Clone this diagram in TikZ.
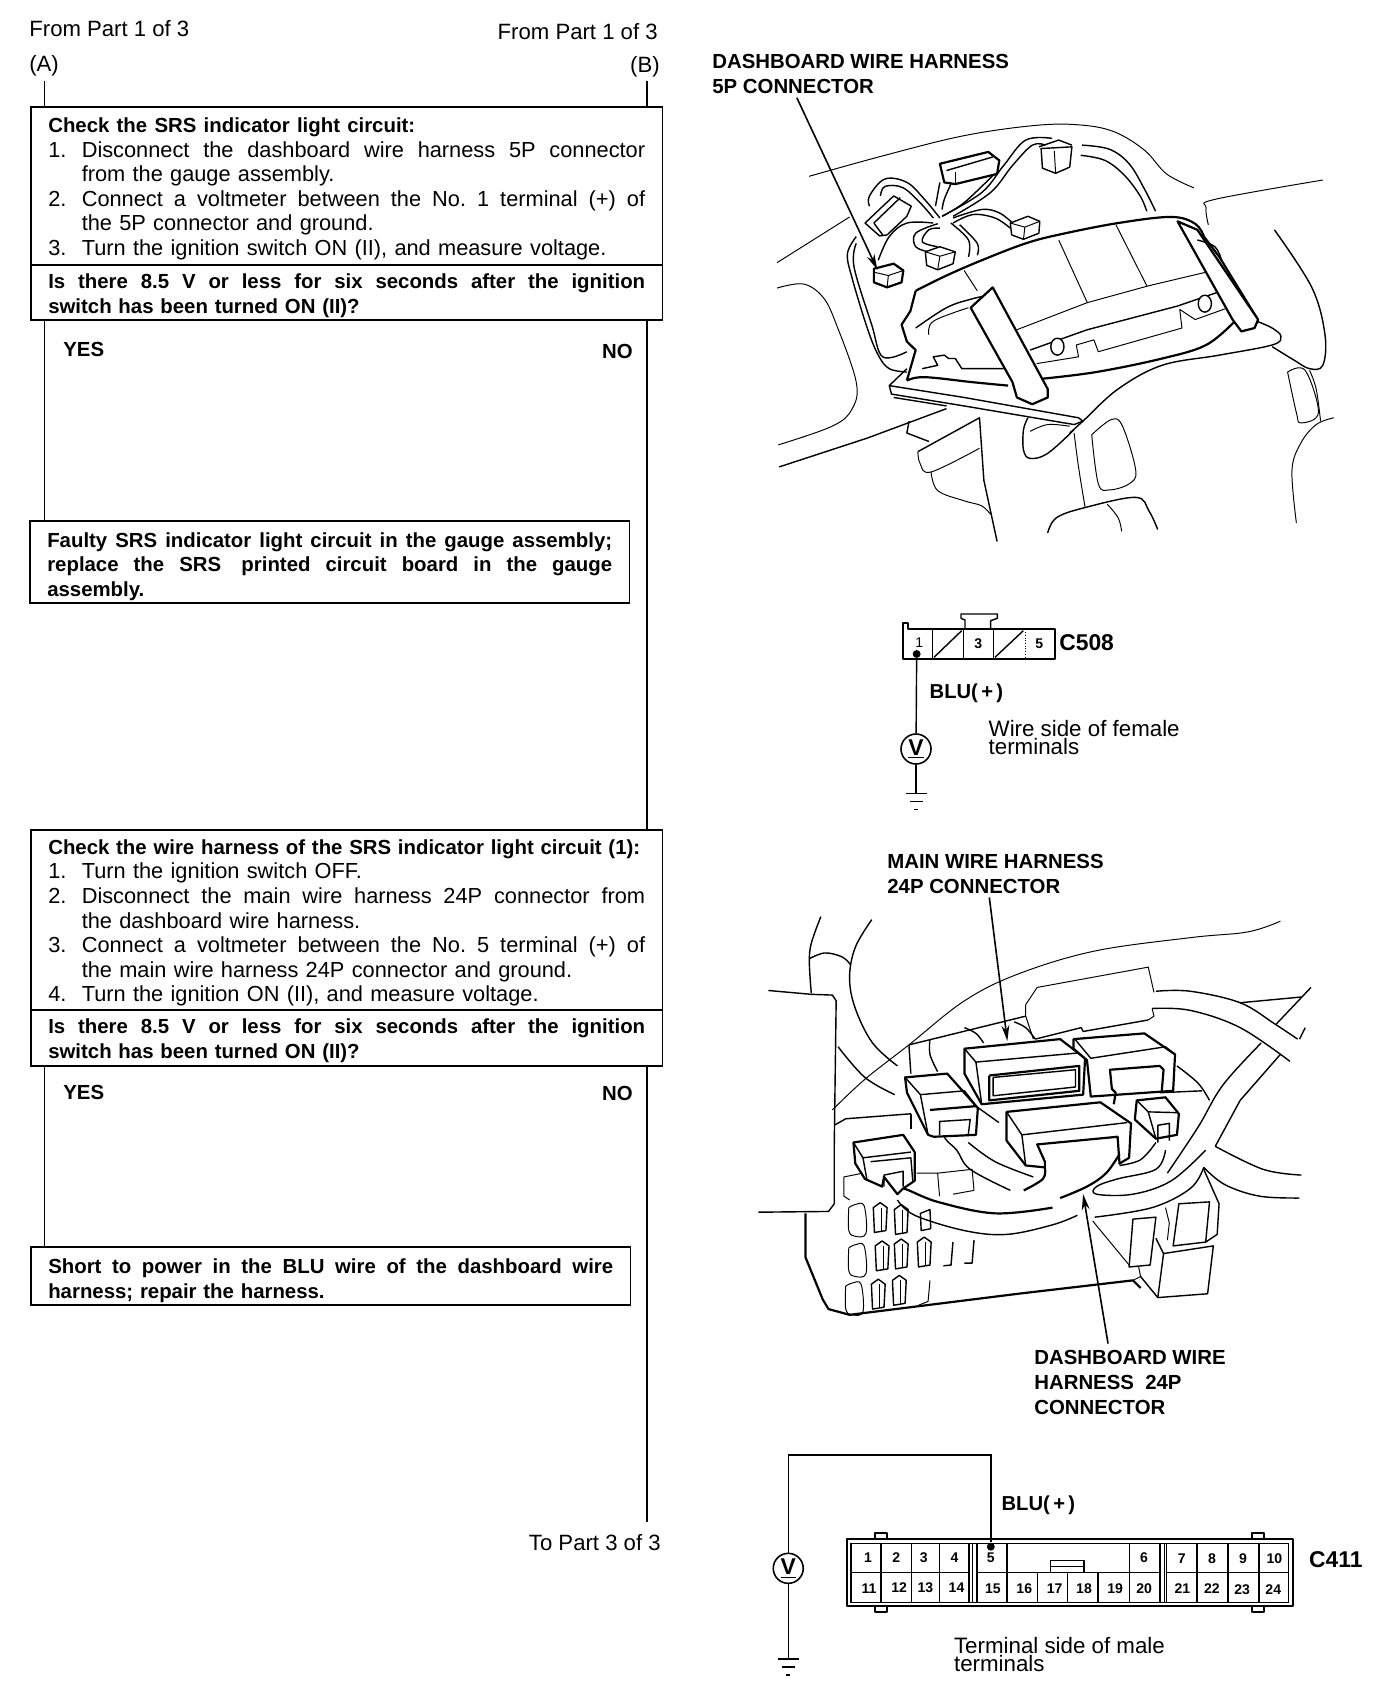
\documentclass[tikz,border=0pt]{standalone}
\usepackage{fontspec}
\setmainfont{Liberation Sans}
\usepackage{xcolor}
\usepackage{tikz}
\usetikzlibrary{arrows.meta}
\newcommand{\spreadline}[2]{\makebox[#1][s]{\spaceskip=0.278em plus 1em minus 0.08em\xspaceskip=\spaceskip #2}}
\newcommand{\itemline}[3]{\makebox[0.67cm][l]{#1}\spreadline{#2}{#3}}
\newcommand{\itemplain}[2]{\makebox[0.67cm][l]{#1}#2}
\newcommand{\itemrest}[1]{\hspace*{0.67cm}#1}
\newcommand{\topgap}[1]{\rule{0pt}{#1}}
\newcommand{\checktitle}[1]{{\fontsize{11.6}{14}\selectfont\bfseries #1}}
\newcommand{\sketchbend}[2]{\draw[#1] plot[smooth,tension=0.6] coordinates {#2};}
\newcommand{\sketchkink}[2]{\draw[#1] plot[sharp plot] coordinates {#2};}
\newcommand{\sketchblock}[2]{\draw[#1,fill=white] plot[sharp cycle] coordinates {#2};}
\newcommand{\groundmark}[1]{\draw[flowline] (#1) ++(-10.5,0) -- ++(21,0) (#1) ++(-6.5,8) -- ++(13,0) (#1) ++(-2,16) -- ++(4,0);}
\tikzset{
  flowline/.style={line width=0.8pt},
  stepbox/.style={draw,line width=0.9pt,anchor=north west,inner xsep=0.35cm,inner ysep=0pt,
    text width=11.94cm,minimum width=12.64cm,align=left,font=\fontsize{12.4}{14}\selectfont},
  askbox/.style={stepbox,font=\fontsize{11.6}{14}\selectfont\bfseries},
  endbox/.style={askbox,text width=11.3cm,minimum width=12cm},
  flowtext/.style={inner sep=0pt,font=\fontsize{12.6}{14}\selectfont},
  branchtext/.style={inner sep=0pt,font=\fontsize{11.6}{14}\selectfont\bfseries},
  partlabel/.style={inner sep=0pt,anchor=north west,align=left,font=\fontsize{11.6}{14}\selectfont\bfseries},
  noteline/.style={inner sep=0pt,anchor=north west,align=left,font=\fontsize{12.7}{10.5}\selectfont},
  codelabel/.style={inner sep=0pt,anchor=west,font=\fontsize{13}{14}\selectfont\bfseries},
  wirelabel/.style={inner sep=0pt,anchor=west,font=\fontsize{11.5}{12}\selectfont\bfseries},
  termnum/.style={inner sep=0pt,font=\fontsize{8}{9}\selectfont\bfseries},
  termdot/.style={circle,fill,inner sep=0pt,minimum size=4.5pt},
  voltmeter/.style={circle,draw,line width=0.9pt,fill=white,inner sep=0pt,minimum size=0.6cm,font=\fontsize{13}{13}\selectfont\bfseries},
  sketchthin/.style={line width=0.55pt,line join=round},
  sketchmid/.style={line width=0.8pt,line join=round},
  sketchthick/.style={line width=1.25pt,line join=round},
  leadarrow/.style={line width=0.9pt,-{Stealth[length=9pt,width=4.5pt]}}
}
\begin{document}
\begin{tikzpicture}[x=0.02cm,y=-0.02cm]
  \useasboundingbox (0,0) rectangle (1392,1696);
  \fill[white] (0,0) rectangle (1392,1696);

  \node[flowtext,anchor=west] (froma) at (29,29) {From Part 1 of 3};
  \node[flowtext,anchor=east] (fromb) at (658,32) {From Part 1 of 3};
  \node[flowtext,anchor=west] (taga) at (29,66) {(A)};
  \node[flowtext,anchor=east] (tagb) at (660,67) {(B)};
  \node[flowtext,anchor=east] (topart) at (661,1543) {To Part 3 of 3};

  \node[stepbox,minimum height=3.16cm] (srscheck) at (30,106) {
    \topgap{12pt}\checktitle{Check the SRS indicator light circuit:} \\
    \itemline{1.}{11.27cm}{Disconnect the dashboard wire harness 5P connector} \\
    \itemrest{from the gauge assembly.} \\
    \itemline{2.}{11.27cm}{Connect a voltmeter between the No. 1 terminal (+) of} \\
    \itemrest{the 5P connector and ground.} \\
    \itemplain{3.}{Turn the ignition switch ON (II), and measure voltage.}
  };
  \node[askbox,minimum height=1.1cm] (srsask) at (30,264) {
    \topgap{12pt}\spreadline{11.94cm}{Is there 8.5 V or less for six seconds after the ignition} \\
    switch has been turned ON (II)?
  };
  \node[endbox,minimum height=1.64cm] (gaugeend) at (29,520) {
    \topgap{14pt}\spreadline{11.3cm}{Faulty SRS indicator light circuit in the gauge assembly;} \\
    \spreadline{11.3cm}{replace the SRS\kern3pt\ printed circuit board in the gauge} \\
    assembly.
  };
  \node[stepbox,minimum height=3.6cm] (wirecheck) at (30,829) {
    \topgap{12pt}\checktitle{\spreadline{11.84cm}{Check the wire harness of the SRS indicator light circuit (1):}} \\
    \itemplain{1.}{Turn the ignition switch OFF.} \\
    \itemline{2.}{11.27cm}{Disconnect the main wire harness 24P connector from} \\
    \itemrest{the dashboard wire harness.} \\
    \itemline{3.}{11.27cm}{Connect a voltmeter between the No. 5 terminal (+) of} \\
    \itemrest{the main wire harness 24P connector and ground.} \\
    \itemplain{4.}{Turn the ignition ON (II), and measure voltage.}
  };
  \node[askbox,minimum height=1.12cm] (wireask) at (30,1009) {
    \topgap{12pt}\spreadline{11.94cm}{Is there 8.5 V or less for six seconds after the ignition} \\
    switch has been turned ON (II)?
  };
  \node[endbox,minimum height=1.16cm] (shortend) at (30,1246) {
    \topgap{13.8pt}\spreadline{11.3cm}{Short to power in the BLU wire of the dashboard wire} \\
    harness; repair the harness.
  };

  \node[branchtext,anchor=west] (yesa) at (63,349) {YES};
  \node[branchtext,anchor=east] (noa) at (633,351) {NO};
  \node[branchtext,anchor=west] (yesb) at (63,1092) {YES};
  \node[branchtext,anchor=east] (nob) at (633,1093) {NO};

  \coordinate (linea) at (44.5,81);
  \coordinate (lineb) at (647,81);
  \coordinate (linec) at (647,1522);
  \draw[flowline] (linea) -- (linea |- srscheck.north);
  \draw[flowline] (lineb) -- (lineb |- srscheck.north);
  \draw[flowline] (linea |- srsask.south) -- (linea |- gaugeend.north);
  \draw[flowline] (lineb |- srsask.south) -- (lineb |- wirecheck.north);
  \draw[flowline] (linea |- wireask.south) -- (linea |- shortend.north);
  \draw[flowline] (lineb |- wireask.south) -- (linec);

  \node[partlabel] (dashlabel) at (712,54.3) {DASHBOARD WIRE HARNESS \\ 5P CONNECTOR};
  \node[partlabel] (mainlabel) at (887,854.4) {MAIN WIRE HARNESS \\ 24P CONNECTOR};
  \node[partlabel] (harnesslabel) at (1034,1350.4) {DASHBOARD WIRE \\ HARNESS \ 24P \\ CONNECTOR};

  \begin{scope}[shift={(700,30)},x=0.00881cm,y=-0.00678cm]
    \sketchbend{sketchthin}{(248,432) (420,370) (600,312) (760,282) (860,280) (940,300) (1010,355) (1060,425) (1122,466)}
    \sketchbend{sketchmid}{(868,340) (930,352) (975,395) (1010,470) (1035,535)}
    \sketchbend{sketchmid}{(865,370) (920,385) (965,430) (1000,490) (1015,535)}
    \sketchbend{sketchthin}{(1415,443) (1170,500) (1150,525) (1155,575)}
    \sketchkink{sketchthin}{(175,687) (340,552)}
    \sketchbend{sketchthin}{(175,762) (235,750) (280,790) (310,870) (355,1040) (345,1120) (300,1170) (178,1225)}
    \sketchkink{sketchmid}{(180,1290) (380,1205) (560,1118)}
    \sketchbend{sketchmid}{(355,610) (335,660) (345,730) (380,880) (405,960) (430,1000) (470,1010)}
    \sketchbend{sketchmid}{(355,630) (350,700) (390,870) (415,965) (470,950)}
    \sketchbend{sketchmid}{(1305,590) (1390,760) (1420,900) (1415,990) (1385,1000) (1350,975) (1300,935)}
    \sketchbend{sketchthin}{(1385,1005) (1400,1060) (1410,1155)}
    \sketchbend{sketchthin}{(1440,1145) (1400,1165) (1365,1220) (1345,1300) (1355,1455)}
    \sketchbend{sketchthin}{(1335,1010) (1375,1005) (1405,1130) (1365,1160) (1355,1130) (1335,1010)}
    \sketchkink{sketchmid}{(475,1155) (470,1190) (520,1215)}
    \sketchkink{sketchmid}{(495,1245) (635,1145) (645,1330) (675,1510)}
    \sketchbend{sketchthin}{(495,1245) (500,1280) (525,1305) (635,1235)}
    \sketchbend{sketchthin}{(525,1305) (540,1360) (600,1390) (640,1405) (660,1430)}
    \sketchbend{sketchmid}{(745,1145) (735,1180) (735,1240) (750,1265) (790,1250) (850,1180)}
    \sketchbend{sketchthin}{(750,1185) (790,1165) (840,1170)}
    \sketchbend{sketchthin}{(850,1190) (860,1290) (875,1410)}
    \sketchbend{sketchthin}{(890,1195) (935,1150) (960,1170) (990,1300) (975,1340) (930,1358) (905,1340) (890,1195)}
    \sketchbend{sketchmid}{(790,1485) (810,1440) (875,1410) (990,1380) (1020,1420) (1040,1475)}
    \sketchbend{sketchthin}{(925,1400) (950,1440) (958,1480)}

    \sketchbend{sketchmid}{(550,550) (640,480) (690,400) (740,325) (800,320)}
    \sketchbend{sketchmid}{(575,550) (660,480) (710,400) (755,340) (785,340)}
    \sketchkink{sketchmid}{(545,450) (535,520)}
    \sketchbend{sketchmid}{(570,455) (555,500) (550,530)}
    \sketchbend{sketchmid}{(665,430) (600,510) (550,550)}
    \sketchbend{sketchmid}{(385,520) (385,490) (420,440) (470,450) (510,500) (545,555)}
    \sketchbend{sketchmid}{(410,490) (420,462) (460,465) (500,510) (530,555)}
    \sketchbend{sketchmid}{(530,570) (470,570) (430,610) (405,680)}
    \sketchbend{sketchmid}{(575,555) (640,530) (680,540) (710,570)}
    \sketchbend{sketchmid}{(575,570) (620,545) (670,555) (705,585)}
    \sketchbend{sketchmid}{(540,640) (505,625) (520,590) (545,585)}
    \sketchbend{sketchmid}{(520,655) (490,640) (490,600) (540,572)}
    \sketchbend{sketchmid}{(570,570) (610,620) (610,670)}
    \sketchbend{sketchmid}{(590,575) (630,630) (630,665)}

    \sketchblock{sketchmid}{(775,350) (845,345) (840,405) (808,423) (778,408)}
    \sketchkink{sketchmid}{(770,345) (815,325) (845,340)}
    \sketchkink{sketchthin}{(805,358) (808,423)}
    \sketchblock{sketchthick}{(545,395) (655,360) (680,385) (675,425) (580,455) (555,450)}
    \sketchkink{sketchmid}{(560,415) (665,375)}
    \sketchkink{sketchmid}{(580,420) (580,455)}
    \sketchblock{sketchmid}{(375,570) (440,490) (480,520) (470,550) (425,605) (408,608)}
    \sketchkink{sketchmid}{(395,570) (455,495)}
    \sketchkink{sketchmid}{(395,570) (415,605)}
    \sketchblock{sketchmid}{(705,570) (745,550) (772,565) (770,600) (735,618) (708,605)}
    \sketchkink{sketchthin}{(705,570) (738,582) (772,565)}
    \sketchkink{sketchthin}{(738,582) (735,618)}
    \sketchblock{sketchmid}{(512,655) (545,640) (580,655) (575,690) (540,708) (515,695)}
    \sketchkink{sketchthin}{(512,655) (545,668) (580,655)}
    \sketchkink{sketchthin}{(545,668) (540,708)}
    \sketchblock{sketchthick}{(395,705) (440,690) (462,710) (458,745) (425,760) (395,745)}
    \sketchkink{sketchthin}{(395,715) (428,725) (462,710)}
    \sketchkink{sketchthin}{(428,725) (425,760)}

    \sketchbend{sketchthick}{(490,770) (560,725) (640,680) (740,630) (820,603) (950,570) (1070,552) (1125,572) (1145,610)}
    \sketchkink{sketchthick}{(1145,610) (1180,670) (1220,755) (1265,850)}
    \sketchkink{sketchthick}{(490,770) (478,830) (458,870) (470,920) (490,945) (470,1035)}
    \sketchbend{sketchthick}{(470,1035) (510,1025) (620,1040) (700,1050)}
    \sketchbend{sketchthick}{(775,1030) (900,1010) (1050,970) (1150,930) (1215,860)}
    \sketchkink{sketchthin}{(815,620) (880,805)}
    \sketchkink{sketchthin}{(945,575) (1015,755)}
    \sketchkink{sketchthin}{(600,710) (630,770)}
    \sketchkink{sketchthin}{(720,885) (880,805) (1020,755) (1150,715) (1180,770)}
    \sketchbend{sketchmid}{(490,880) (560,820) (615,795) (665,780)}
    \sketchbend{sketchthin}{(520,900) (530,860) (610,820)}
    \sketchkink{sketchmid}{(750,945) (880,885) (1085,815) (1175,775)}
    \sketchkink{sketchthin}{(765,985) (860,965) (855,930) (895,915) (905,950) (1095,880) (1090,825) (1125,855) (1200,820)}
    \draw[sketchmid,fill=white] (812,935) ellipse (15 and 25);
    \draw[sketchmid,fill=white] (1147,808) ellipse (15 and 25);
    \sketchkink{sketchmid}{(505,1000) (540,990) (530,965) (555,960) (565,970) (580,970) (595,1000) (690,1000)}

    \sketchblock{sketchthick}{(615,820) (665,760) (790,1060) (790,1085) (755,1105) (720,1085) (710,1040)}
    \sketchblock{sketchthick}{(1085,565) (1130,590) (1268,855) (1260,880) (1230,890) (1210,855)}
    \sketchbend{sketchmid}{(1130,620) (1170,640) (1185,680)}

    \sketchkink{sketchmid}{(470,1000) (430,1050) (600,1085) (860,1145) (870,1155) (850,1165) (600,1110) (435,1075) (430,1050)}
    \sketchkink{sketchmid}{(440,1085) (560,1110)}
    \sketchbend{sketchmid}{(1265,860) (1300,880) (1320,905) (1300,930) (1180,960) (1050,990) (950,1060) (870,1155) (840,1190)}

    \coordinate (dashtail) at (220,200);
    \coordinate (dashtip) at (403,708);
    \draw[leadarrow] (dashtail) -- (dashtip);
  \end{scope}

  \begin{scope}[shift={(860,600)},x=0.006667cm,y=-0.006667cm]
    \draw[sketchthick] (128,178) -- (128,70) -- (143,70) -- (143,88) -- (585,88) -- (585,178) -- cycle;
    \draw[sketchmid] (315,88) -- (315,60) -- (303,55) -- (303,42) -- (412,42) -- (412,55) -- (392,62) -- (392,88);
    \foreach \cola in {218,310,400} \draw[sketchmid] (\cola,88) -- (\cola,178);
    \draw[sketchthin,densely dotted] (495,88) -- (495,178);
    \draw[sketchmid] (222,172) -- (305,92);
    \draw[sketchmid] (405,172) -- (490,92);
    \node[termnum,font=\fontsize{8}{9}\selectfont] (pinone) at (178,128) {1};
    \node[termnum] (pinthree) at (355,132) {3};
    \node[termnum] (pinfive) at (538,130) {5};
    \node[termdot] (dotone) at (170,162) {};
    \node[codelabel] (cfive) at (597,128) {C508};
    \node[voltmeter] (volta) at (168,447) {\underline{V}};
    \coordinate (gnda) at (168,580);
    \draw[flowline] (dotone) -- (volta);
    \draw[flowline] (volta) -- (gnda);
    \node[wirelabel] (blua) at (208,280) {BLU(\,+\,)};
    \node[noteline] (notea) at (385,360) {Wire side of female \\ terminals};
  \end{scope}
  \groundmark{gnda}

  \begin{scope}[shift={(750,840)},x=0.00766cm,y=-0.00766cm]
    \sketchbend{sketchmid}{(185,200) (160,270) (155,320) (160,400)}
    \sketchbend{sketchmid}{(155,310) (195,295) (240,305) (262,325)}
    \sketchbend{sketchmid}{(318,208) (275,280) (260,360) (275,440) (320,530) (385,590)}
    \sketchbend{sketchmid}{(230,540) (300,620) (378,665)}
    \sketchkink{sketchmid}{(48,393) (160,403) (215,405) (225,420) (220,800) (220,950) (205,970) (22,972)}
    \sketchbend{sketchthin}{(215,705) (300,625) (415,535) (560,420) (700,350) (900,290) (1150,255) (1300,240) (1385,212)}
    \sketchkink{sketchthick}{(145,975) (145,1090) (190,1200) (205,1225) (260,1240) (700,1185) (1000,1150) (1020,1170)}
    \sketchkink{sketchmid}{(420,715) (250,728) (220,745)}
    \sketchkink{sketchmid}{(420,755) (420,715)}
    \sketchkink{sketchthin}{(435,870) (490,870) (580,860) (585,915) (530,925)}
    \sketchkink{sketchthin}{(490,870) (495,930)}
    \sketchkink{sketchthin}{(245,880) (245,930) (260,940)}
    \sketchkink{sketchthin}{(245,880) (295,870)}

    \sketchbend{sketchmid}{(1060,395) (1150,395) (1280,425) (1370,480) (1430,520)}
    \sketchbend{sketchmid}{(1050,440) (1150,445) (1280,490) (1410,578)}
    \sketchkink{sketchmid}{(1280,425) (1440,410)}
    \sketchkink{sketchmid}{(1465,385) (1375,480)}
    \sketchkink{sketchmid}{(1450,490) (1435,520)}
    \sketchbend{sketchmid}{(1335,530) (1235,640) (1170,750) (1090,870)}
    \sketchkink{sketchmid}{(1385,560) (1280,680) (1215,800)}
    \sketchbend{sketchmid}{(1215,800) (1340,860) (1440,875)}
    \sketchbend{sketchmid}{(1185,855) (1240,900) (1330,930) (1435,935)}
    \sketchbend{sketchmid}{(1185,855) (1150,910) (1050,960) (900,985)}
    \sketchkink{sketchthin}{(720,430) (750,385) (1040,332) (1055,398)}
    \sketchkink{sketchthin}{(720,430) (720,460) (740,520)}
    \sketchkink{sketchthin}{(1050,440) (1055,460) (1040,470)}
    \sketchkink{sketchmid}{(415,535) (720,460)}
    \sketchkink{sketchmid}{(415,535) (420,610)}
    \sketchbend{sketchmid}{(470,520) (470,560) (490,605)}
    \sketchbend{sketchmid}{(560,490) (590,505) (610,530)}
    \sketchbend{sketchmid}{(690,475) (720,490) (745,520)}
    \sketchkink{sketchmid}{(745,520) (865,490) (870,500) (1040,470)}
    \sketchbend{sketchmid}{(1115,590) (1170,635) (1200,680)}
    \sketchkink{sketchmid}{(1070,660) (1180,655)}
    \sketchkink{sketchmid}{(590,695) (650,738)}

    \foreach \fx/\fy in {340/985,395/990,345/1085,395/1080,455/1075,335/1185,390/1175} {
      \sketchblock{sketchmid}{(\fx-18,\fy-25) (\fx,\fy-38) (\fx+18,\fy-25) (\fx+15,\fy+35) (\fx-15,\fy+40)}
      \sketchkink{sketchthin}{(\fx+3,\fy-25) (\fx+3,\fy+37)}
    }
    \sketchblock{sketchmid}{(445,975) (470,965) (472,1015) (447,1020)}
    \foreach \fx/\fy in {280/995,280/1100,272/1200} {
      \sketchbend{sketchthin}{(\fx-22,\fy-35) (\fx-5,\fy-43) (\fx+18,\fy-40) (\fx+23,\fy+32) (\fx-5,\fy+40) (\fx-22,\fy+25) (\fx-22,\fy-35)}
    }
    \sketchkink{sketchmid}{(530,1050) (525,1110) (505,1112)}
    \sketchkink{sketchmid}{(585,1045) (580,1105) (560,1105)}
    \sketchkink{sketchthin}{(470,1150) (465,1205) (440,1215)}
    \sketchblock{sketchmid}{(1000,990) (1060,985) (1045,1110) (990,1115)}
    \sketchblock{sketchmid}{(1120,950) (1200,945) (1190,1050) (1105,1060)}
    \sketchblock{sketchmid}{(1080,1080) (1210,1060) (1195,1185) (1065,1195)}
    \sketchkink{sketchmid}{(1020,1140) (1065,1195)}
    \sketchkink{sketchmid}{(1060,1040) (1080,1080)}
    \sketchkink{sketchmid}{(1185,860) (1225,950) (1220,1030) (1190,1050)}
    \sketchkink{sketchthin}{(1085,960) (1095,1000) (1090,1045)}
    \sketchkink{sketchthin}{(1015,1115) (1020,1140) (1000,1150)}
    \sketchkink{sketchthin}{(895,995) (990,1110)}

    \sketchbend{sketchthick}{(385,925) (400,910) (490,945) (640,975) (790,960)}
    \sketchbend{sketchmid}{(385,940) (430,980) (560,1020) (670,1030) (790,1005) (855,980)}
    \sketchblock{sketchthick}{(560,545) (810,520) (875,570) (870,665) (605,690) (560,610)}
    \sketchkink{sketchmid}{(560,545) (590,580) (870,555)}
    \sketchkink{sketchmid}{(590,580) (605,690)}
    \sketchkink{sketchthick}{(625,615) (860,590) (860,655) (625,680) (625,615)}
    \sketchkink{sketchmid}{(635,620) (850,600) (850,645) (635,668) (635,620)}
    \sketchblock{sketchthick}{(845,520) (1030,505) (1110,560) (1105,655) (890,670) (880,575) (845,545)}
    \sketchkink{sketchmid}{(850,522) (890,570) (1085,540) (1110,560)}
    \sketchkink{sketchthick}{(950,690) (955,660) (945,650) (940,600) (1070,590) (1080,600) (1075,660)}
    \sketchblock{sketchthick}{(670,710) (915,685) (995,740) (990,830) (965,845) (960,775) (750,795) (770,840) (770,855) (720,850) (670,785)}
    \sketchkink{sketchmid}{(670,710) (710,770) (985,738)}
    \sketchkink{sketchmid}{(710,770) (720,850)}
    \sketchbend{sketchthick}{(770,855) (765,885) (715,915)}
    \sketchbend{sketchthick}{(810,935) (880,905) (930,870) (965,820)}
    \sketchbend{sketchmid}{(495,740) (510,780) (540,810) (575,860) (680,915)}
    \sketchbend{sketchmid}{(570,790) (640,840) (740,880)}
    \sketchblock{sketchthick}{(405,620) (515,610) (595,700) (590,770) (480,775) (465,770) (410,660)}
    \sketchkink{sketchmid}{(405,620) (445,665) (560,655) (595,700)}
    \sketchkink{sketchmid}{(445,665) (465,770)}
    \sketchkink{sketchthick}{(470,705) (590,695)}
    \sketchkink{sketchmid}{(495,770) (495,735) (575,730) (570,770)}
    \sketchblock{sketchthick}{(1010,680) (1085,672) (1120,715) (1115,770) (1060,780) (1005,730)}
    \sketchkink{sketchmid}{(1010,680) (1040,710) (1115,712)}
    \sketchkink{sketchmid}{(1040,710) (1060,780)}
    \sketchkink{sketchmid}{(1095,785) (1095,740) (1065,745) (1065,790)}
    \sketchbend{sketchmid}{(965,850) (1020,835) (1060,790)}
    \sketchbend{sketchmid}{(1085,810) (1060,860) (960,885) (905,905) (905,925) (1000,925) (1100,890) (1190,810)}
    \sketchblock{sketchthick}{(270,790) (400,770) (430,815) (430,890) (400,910) (385,925) (350,880) (345,905) (300,885) (275,845)}
    \sketchkink{sketchmid}{(270,790) (295,830) (420,815)}
    \sketchkink{sketchmid}{(295,830) (305,885)}
    \sketchkink{sketchmid}{(315,840) (420,830) (425,890)}
    \sketchkink{sketchmid}{(350,905) (350,875) (400,865) (400,905)}

    \coordinate (maintail) at (625,150);
    \coordinate (maintip) at (672,525);
    \coordinate (harnesstail) at (935,1315);
    \coordinate (harnesstip) at (870,925);
    \draw[leadarrow] (maintail) -- (maintip);
    \draw[leadarrow] (harnesstail) -- (harnesstip);
  \end{scope}

  \begin{scope}[shift={(760,1440)},x=0.008065cm,y=-0.006667cm]
    \draw[sketchthick] (215,298) rectangle (1320,498);
    \draw[sketchthin] (225,310) rectangle (1310,488);
    \foreach \ex in {300,1235} {
      \draw[sketchthick,fill=white] (\ex-15,280) rectangle (\ex+15,298);
      \draw[sketchthick,fill=white] (\ex-15,498) rectangle (\ex+15,516);
    }
    \foreach \cola/\colb in {225/300,300/375,375/445,445/518,538/612,915/990,1007/1083,1083/1160,1160/1237,1237/1310}
      \draw[sketchmid] (\cola,310) rectangle (\colb,398);
    \foreach \cola/\colb in {225/300,300/375,375/445,445/518,538/612,612/688,688/762,762/838,838/915,915/990,1007/1083,1083/1160,1160/1237,1237/1310}
      \draw[sketchmid] (\cola,398) rectangle (\colb,488);
    \foreach \cola in {526,536,993,1003} \draw[sketchmid] (\cola,310) -- (\cola,488);
    \draw[sketchmid] (720,398) -- (720,362) -- (803,362) -- (803,398);
    \draw[sketchmid] (720,380) -- (803,380);
    \foreach \num/\cx/\cy in {1/268/353,2/338/352,3/406/352,4/482/352,5/572/352,6/952/353,7/1045/355,8/1120/355,9/1197/355,10/1275/355,
      11/270/445,12/345/443,13/410/443,14/487/443,15/577/445,16/655/445,17/730/445,18/803/445,19/880/445,20/952/447,21/1047/447,22/1120/447,23/1195/448,24/1272/450}
      \node[termnum] (term\num) at (\cx,\cy) {\num};
    \node[termdot] (dotfive) at (572,320) {};
    \node[codelabel] (cfour) at (1360,360) {C411};
    \node[voltmeter] (voltb) at (70,385) {\underline{V}};
    \coordinate (wiretop) at (70,45);
    \coordinate (gndb) at (70,657);
    \draw[flowline] (voltb) -- (wiretop) -- (dotfive |- wiretop) -- (dotfive);
    \draw[flowline] (voltb) -- (gndb);
    \node[wirelabel] (blub) at (598,197) {BLU(\,+\,)};
    \node[noteline] (noteb) at (480,590) {Terminal side of male \\ terminals};
  \end{scope}
  \groundmark{gndb}
\end{tikzpicture}
\end{document}
